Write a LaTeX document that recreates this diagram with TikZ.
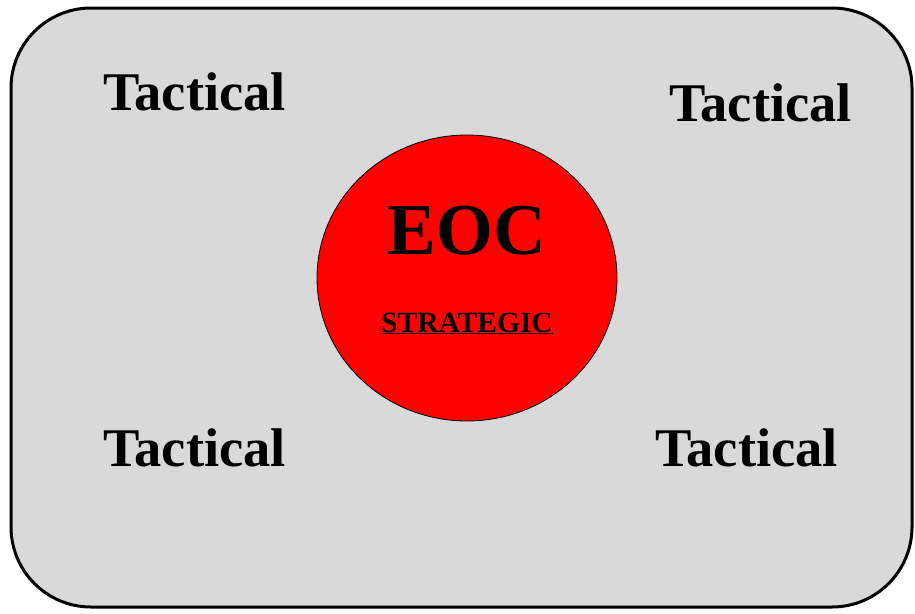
\documentclass[tikz,border=0pt]{standalone}
\usepackage{fontspec}
\setmainfont{Liberation Serif}
\definecolor{panelgray}{HTML}{D9D9D9}
\definecolor{eocred}{HTML}{FF0000}
\begin{document}
\begin{tikzpicture}[x=1pt,y=-1pt,
  tact/.style={anchor=base west,inner sep=0pt,font=\fontsize{54.5}{60}\selectfont\bfseries},
  panel/.style={draw=black,fill=panelgray,line width=3pt,rounded corners=80pt},
  hub/.style={draw=black,fill=eocred,line width=0.8pt}]
\useasboundingbox (0,0) rectangle (915,613);
\draw[panel] (11,8) rectangle (912,607);
\draw[hub] (467,278) ellipse [x radius=150, y radius=143];
\node[tact] (t1) at (103,110) {Tactical};
\node[tact] (t2) at (669,121) {Tactical};
\node[tact] (t3) at (103,466) {Tactical};
\node[tact] (t4) at (655,466) {Tactical};
\node[anchor=base,inner sep=0pt,font=\fontsize{73}{80}\selectfont\bfseries] (eoc) at (467,254) {EOC};
\node[anchor=base,inner sep=0pt,font=\fontsize{29.5}{32}\selectfont\bfseries] (strat) at (467,332) {\underline{STRATEGIC}};
\end{tikzpicture}
\end{document}
